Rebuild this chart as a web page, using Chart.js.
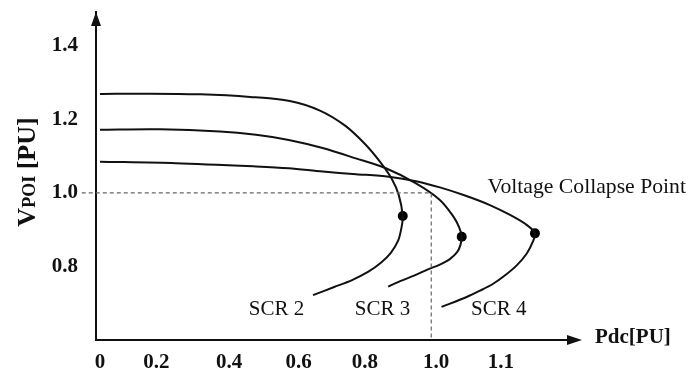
<!DOCTYPE html>
<html>
<head>
<meta charset="utf-8">
<script src="https://cdn.jsdelivr.net/npm/chart.js@4.4.0/dist/chart.umd.min.js"></script>
<style>
    html, body { margin: 0; padding: 0; background: #fff; }
    #wrap { width: 688px; height: 374px; }
</style>
</head>
<body>
<div id="wrap"><canvas id="myChart" width="688" height="374"></canvas></div>
<script>
// series names
const seriesNames = ['SCR 2', 'SCR 3', 'SCR 4'];

// Pdc [PU] and V_POI [PU] (upper branch -> nose -> lower branch)
const scr2P = [0, 0.151, 0.302, 0.453, 0.573, 0.664, 0.740, 0.800, 0.845, 0.881, 0.902, 0.914, 0.910, 0.900, 0.878, 0.848, 0.809, 0.761, 0.707, 0.643];
const scr2V = [1.269, 1.270, 1.268, 1.261, 1.250, 1.224, 1.183, 1.133, 1.085, 1.038, 0.994, 0.937, 0.905, 0.870, 0.837, 0.810, 0.785, 0.763, 0.744, 0.722];

const scr3P = [0, 0.181, 0.362, 0.471, 0.570, 0.672, 0.772, 0.863, 0.954, 1.026, 1.066, 1.084, 1.092, 1.088, 1.078, 1.056, 1.026, 0.990, 0.948, 0.906, 0.870];
const scr3V = [1.172, 1.173, 1.167, 1.158, 1.144, 1.122, 1.094, 1.067, 1.026, 0.981, 0.937, 0.907, 0.881, 0.858, 0.839, 0.820, 0.805, 0.792, 0.775, 0.760, 0.745];

const scr4P = [0, 0.229, 0.471, 0.570, 0.672, 0.773, 0.872, 0.954, 1.026, 1.102, 1.177, 1.238, 1.288, 1.313, 1.307, 1.289, 1.258, 1.223, 1.187, 1.147, 1.107, 1.031];
const scr4V = [1.085, 1.081, 1.072, 1.067, 1.058, 1.051, 1.044, 1.032, 1.015, 0.993, 0.967, 0.940, 0.913, 0.890, 0.868, 0.836, 0.803, 0.776, 0.753, 0.734, 0.717, 0.690];

// dashed guide at 1.0 PU
const refP = [-0.055, 1.0, 1.0];
const refV = [1.0, 1.0, 0.6];

// tick labels (the x labels are not evenly spaced in the original)
const xTickPos = [0, 0.17, 0.39, 0.60, 0.80, 1.015, 1.21];
const xTickLabels = ['0', '0.2', '0.4', '0.6', '0.8', '1.0', '1.1'];
const yTickVals = [0.8, 1.0, 1.2, 1.4];

const curvesP = [scr2P, scr3P, scr4P];
const curvesV = [scr2V, scr3V, scr4V];

const toPts = (p, v) => p.map((x, i) => ({x: x, y: v[i]}));

// the collapse point is the nose of each curve (largest Pdc)
const nosePts = curvesP.map((p, k) => {
    const i = p.indexOf(Math.max(...p));
    return {x: p[i], y: curvesV[k][i]};
});

const serif = '"Liberation Serif", "Times New Roman", serif';
const ink = '#111';

const decor = {
    id: 'decor',
    afterDraw(chart) {
        const {ctx, chartArea: a, scales: {x, y}} = chart;
        ctx.save();
        ctx.fillStyle = ink;

        // arrow heads
        ctx.beginPath();
        ctx.moveTo(a.left, a.top);
        ctx.lineTo(a.left - 5, a.top + 14);
        ctx.lineTo(a.left + 5, a.top + 14);
        ctx.closePath();
        ctx.fill();

        ctx.beginPath();
        ctx.moveTo(a.right + 4, a.bottom);
        ctx.lineTo(a.right - 11, a.bottom - 5);
        ctx.lineTo(a.right - 11, a.bottom + 5);
        ctx.closePath();
        ctx.fill();

        // x title
        ctx.font = 'bold 21px ' + serif;
        ctx.textBaseline = 'middle';
        ctx.textAlign = 'left';
        ctx.fillText('Pdc[PU]', 595, a.bottom - 2);

        // y title, rotated, with small POI
        const parts = [['V', 'bold 26px ' + serif], ['POI', 'bold 18px ' + serif], [' [PU]', 'bold 26px ' + serif]];
        let total = 0;
        const widths = parts.map(([t, f]) => { ctx.font = f; const w = ctx.measureText(t).width; total += w; return w; });
        ctx.translate(26, 172);
        ctx.rotate(-Math.PI / 2);
        ctx.textBaseline = 'alphabetic';
        let u = -total / 2;
        parts.forEach(([t, f], i) => {
            ctx.font = f;
            ctx.fillText(t, u, 8.5);
            u += widths[i];
        });
        ctx.setTransform(1, 0, 0, 1, 0, 0);

        // annotations
        ctx.font = '21.7px ' + serif;
        ctx.textAlign = 'left';
        ctx.textBaseline = 'alphabetic';
        ctx.fillText('Voltage Collapse Point', x.getPixelForValue(1.17), y.getPixelForValue(1.0));

        const labelP = [0.533, 0.853, 1.204];
        ctx.font = '21px ' + serif;
        ctx.textAlign = 'center';
        seriesNames.forEach((n, i) => {
            ctx.fillText(n, x.getPixelForValue(labelP[i]), y.getPixelForValue(0.668));
        });
        ctx.restore();
    }
};

const curveSet = (k) => ({
    label: seriesNames[k],
    data: toPts(curvesP[k], curvesV[k]),
    showLine: true,
    borderColor: ink,
    borderWidth: 2,
    pointRadius: 0,
    tension: 0.3,
    fill: false
});

const ctx = document.getElementById('myChart');
const myChart = new Chart(ctx, {
    type: 'scatter',
    data: {
        datasets: [
            {
                label: 'ref',
                data: toPts(refP, refV),
                showLine: true,
                borderColor: '#666',
                borderWidth: 1.2,
                borderDash: [4, 3],
                pointRadius: 0,
                tension: 0,
                clip: false
            },
            curveSet(0),
            curveSet(1),
            curveSet(2),
            {
                label: 'collapse',
                data: nosePts,
                pointRadius: 5,
                pointBackgroundColor: '#000',
                pointBorderWidth: 0,
                showLine: false
            }
        ]
    },
    options: {
        responsive: false,
        animation: false,
        devicePixelRatio: 1,
        layout: {padding: {left: 0, top: 12, right: 110, bottom: 0}},
        plugins: {legend: {display: false}, tooltip: {enabled: false}},
        scales: {
            x: {
                type: 'linear',
                min: -0.012,
                max: 1.443,
                grid: {display: false, drawTicks: false},
                border: {display: true, color: ink, width: 2},
                afterBuildTicks: s => { s.ticks = xTickPos.map(v => ({value: v})); },
                afterFit: s => { s.height = 34; s.paddingLeft = 0; s.paddingRight = 0; },
                ticks: {
                    autoSkip: false,
                    maxRotation: 0,
                    padding: 10,
                    color: ink,
                    font: {family: serif, size: 21, weight: 'bold'},
                    callback: (v, i) => xTickLabels[i]
                }
            },
            y: {
                type: 'linear',
                min: 0.6,
                max: 1.492,
                grid: {display: false, drawTicks: false},
                border: {display: true, color: ink, width: 2},
                afterBuildTicks: s => { s.ticks = yTickVals.map(v => ({value: v})); },
                afterFit: s => { s.width = 96; s.paddingTop = 0; s.paddingBottom = 0; },
                ticks: {
                    padding: 18,
                    color: ink,
                    font: {family: serif, size: 21, weight: 'bold'},
                    callback: v => v.toFixed(1)
                }
            }
        }
    },
    plugins: [decor]
});
</script>
</body>
</html>
